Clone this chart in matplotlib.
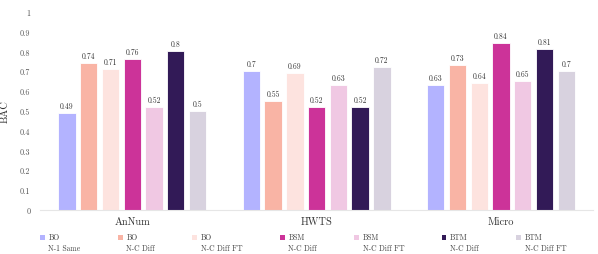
import numpy as np
import matplotlib
matplotlib.use("Agg")
import matplotlib.pyplot as plt
from matplotlib.ticker import FormatStrFormatter, MultipleLocator
from matplotlib.legend_handler import HandlerPatch
from matplotlib.patches import Rectangle

plt.rcParams['font.family'] = ['cmr10', 'DejaVu Serif']
plt.rcParams['axes.formatter.use_mathtext'] = True

groups = ["AnNum", "HWTS", "Micro"]
series = ["BO\nN-1 Same", "BO\nN-C Diff", "BO\nN-C Diff FT", "BSM\nN-C Diff",
          "BSM\nN-C Diff FT", "BTM\nN-C Diff", "BTM\nN-C Diff FT"]
colors = ["#b3b3ff", "#f9b4a5", "#fde3df", "#cc3399", "#f0c8e3", "#321a57", "#d8d2df"]

bo_n1_same = [0.49, 0.70, 0.63]
bo_nc_diff = [0.74, 0.55, 0.73]
bo_nc_diff_ft = [0.71, 0.69, 0.64]
bsm_nc_diff = [0.76, 0.52, 0.84]
bsm_nc_diff_ft = [0.52, 0.63, 0.65]
btm_nc_diff = [0.80, 0.52, 0.81]
btm_nc_diff_ft = [0.50, 0.72, 0.70]
values = [bo_n1_same, bo_nc_diff, bo_nc_diff_ft, bsm_nc_diff,
          bsm_nc_diff_ft, btm_nc_diff, btm_nc_diff_ft]


# legend square sits next to the first text line, not centred on both
def top_square(legend, orig_handle, xdescent, ydescent, width, height, fontsize):
    s = 0.6 * fontsize
    return Rectangle((-xdescent, -ydescent + 0.72 * fontsize), s, s)


fig = plt.figure(figsize=(5.98, 2.55), dpi=100)
ax = fig.add_axes([0.067, 0.173, 0.925, 0.777])

x = np.arange(len(groups))
pitch = 0.118
width = 0.094
for i, (name, vals, c) in enumerate(zip(series, values, colors)):
    pos = x + (i - 3) * pitch
    bars = ax.bar(pos, vals, width, color=c, edgecolor="white", linewidth=0.6, label=name)
    for b, v in zip(bars, vals):
        ax.text(b.get_x() + b.get_width() / 2, v + 0.015, f"{v:g}",
                ha="center", va="bottom", fontsize=5.5, color="#333333")

ax.set_xlim(-0.5, 2.5)
ax.set_ylim(0, 1)
ax.yaxis.set_major_locator(MultipleLocator(0.1))
ax.yaxis.set_major_formatter(FormatStrFormatter("%g"))
ax.set_xticks(x)
ax.set_xticklabels(groups, fontsize=7.5, color="#333333")
ax.tick_params(axis="y", length=0, labelsize=5.8, labelcolor="#555555", pad=7)
ax.tick_params(axis="x", length=0, pad=5)
ax.set_ylabel("BAC", fontsize=7.5, labelpad=7, color="#333333")
for s in ["top", "right", "left"]:
    ax.spines[s].set_visible(False)
ax.spines["bottom"].set_color("#e6e6e6")

proxies = [Rectangle((0, 0), 1, 1, facecolor=c, edgecolor="none") for c in colors]
leg = ax.legend(proxies, series, loc="upper left", bbox_to_anchor=(0.0, -0.115), ncol=7,
                frameon=False, fontsize=5.5, handlelength=0.6, handleheight=0.6,
                handletextpad=0.5, columnspacing=4.9, borderaxespad=0, borderpad=0,
                labelspacing=0.2, labelcolor="#444444",
                handler_map={Rectangle: HandlerPatch(patch_func=top_square)})
for t in leg.get_texts():
    t.set_linespacing(1.35)

fig.savefig("out.png", dpi=100)
